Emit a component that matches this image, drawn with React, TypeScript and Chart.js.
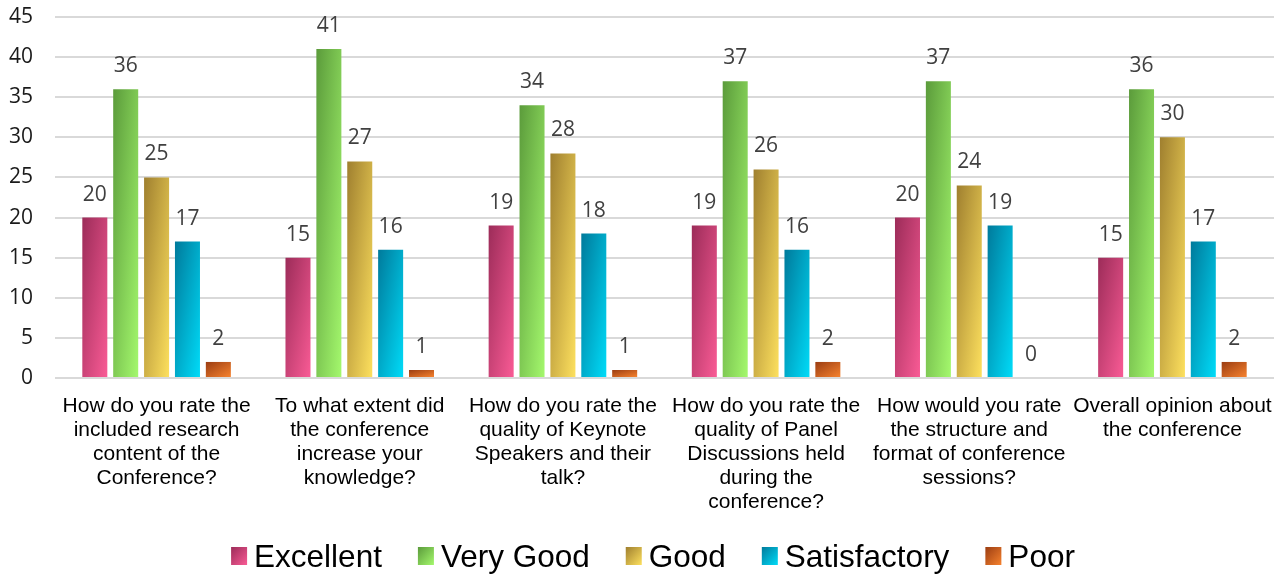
import React, { useEffect, useRef } from "react";
import { Chart, registerables } from "chart.js";

Chart.register(...registerables);

const categories: string[][] = [
  ["How do you rate the", "included research", "content of the", "Conference?"],
  ["To what extent did", "the conference", "increase your", "knowledge?"],
  ["How do you rate the", "quality of Keynote", "Speakers and their", "talk?"],
  ["How do you rate the", "quality of Panel", "Discussions held", "during the", "conference?"],
  ["How would you rate", "the structure and", "format of conference", "sessions?"],
  ["Overall opinion about", "the conference"],
];

const seriesNames = ["Excellent", "Very Good", "Good", "Satisfactory", "Poor"];
const excellent = [20, 15, 19, 19, 20, 15];
const veryGood = [36, 41, 34, 37, 37, 36];
const good = [25, 27, 28, 26, 24, 30];
const satisfactory = [17, 16, 18, 16, 19, 17];
const poor = [2, 1, 1, 2, 0, 2];
const seriesValues = [excellent, veryGood, good, satisfactory, poor];

const darkColors = ["#9c2c59", "#5b9b3b", "#9f7f2f", "#007a9b", "#9b3d12"];
const lightColors = ["#f95b95", "#a4f86d", "#fde05e", "#00dbf8", "#f6822e"];

const yTicks = [0, 5, 10, 15, 20, 25, 30, 35, 40, 45];

function makeGradient(ctx: CanvasRenderingContext2D, left: number, top: number, w: number, h: number, c0: string, c1: string) {
  const s = 2 / (1 / (w * w) + 1 / (h * h));
  const g = ctx.createLinearGradient(left, top, left + s / w, top + s / h);
  g.addColorStop(0, c0);
  g.addColorStop(1, c1);
  return g;
}

const gradientPlugin = {
  id: "barGradient",
  beforeDatasetsDraw(chart: any) {
    const ctx = chart.ctx;
    chart.data.datasets.forEach((_ds: any, di: number) => {
      const meta = chart.getDatasetMeta(di);
      meta.data.forEach((el: any) => {
        const p = el.getProps(["x", "y", "base", "width"], true);
        const left = p.x - p.width / 2;
        const top = Math.min(p.y, p.base);
        const h = Math.abs(p.base - p.y);
        if (h <= 0) return;
        const g = makeGradient(ctx, left, top, p.width, h, darkColors[di], lightColors[di]);
        el.options = Object.assign({}, el.options, { backgroundColor: g });
      });
    });
  },
};

const labelPlugin = {
  id: "valueLabels",
  afterDatasetsDraw(chart: any) {
    const ctx = chart.ctx;
    ctx.save();
    ctx.font = '21px "Open Sans"';
    ctx.fillStyle = "#404040";
    ctx.textAlign = "center";
    ctx.textBaseline = "alphabetic";
    chart.data.datasets.forEach((ds: any, di: number) => {
      const meta = chart.getDatasetMeta(di);
      meta.data.forEach((el: any, i: number) => {
        const p = el.getProps(["x", "y"], true);
        ctx.fillText(String(ds.data[i]), p.x, p.y - 17);
      });
    });
    ctx.restore();
  },
};

const legendPlugin = {
  id: "customLegend",
  afterDraw(chart: any) {
    const ctx = chart.ctx;
    ctx.save();
    ctx.font = '31.5px "Liberation Sans"';
    const boxW = 16;
    const boxH = 18;
    const boxGap = 7;
    const itemGap = 36;
    const widths = seriesNames.map((n) => ctx.measureText(n).width);
    const total = widths.reduce((a, w) => a + boxW + boxGap + w, 0) + itemGap * (seriesNames.length - 1);
    let x = 653 - total / 2;
    const boxTop = 547;
    const baseline = 567;
    seriesNames.forEach((name, i) => {
      ctx.fillStyle = makeGradient(ctx, x, boxTop, boxW, boxH, darkColors[i], lightColors[i]);
      ctx.fillRect(x, boxTop, boxW, boxH);
      ctx.fillStyle = "#000000";
      ctx.textAlign = "left";
      ctx.textBaseline = "alphabetic";
      ctx.fillText(name, x + boxW + boxGap, baseline);
      x += boxW + boxGap + widths[i] + itemGap;
    });
    ctx.restore();
  },
};

export default function App() {
  const canvasRef = useRef<HTMLCanvasElement | null>(null);

  useEffect(() => {
    document.body.style.margin = "0";
    const canvas = canvasRef.current;
    if (!canvas) return;
    const chart = new Chart(canvas, {
      type: "bar",
      data: {
        labels: categories,
        datasets: seriesNames.map((name, i) => ({
          label: name,
          data: seriesValues[i],
          backgroundColor: lightColors[i],
          borderWidth: 0,
          barPercentage: 0.81,
          categoryPercentage: 0.76,
        })),
      },
      options: {
        animation: false,
        responsive: false,
        maintainAspectRatio: false,
        layout: { padding: { top: 17, right: 9, bottom: 56, left: 0 } },
        plugins: {
          legend: { display: false },
          tooltip: { enabled: false },
        },
        scales: {
          x: {
            grid: { display: false },
            border: { display: false },
            ticks: {
              autoSkip: false,
              maxRotation: 0,
              minRotation: 0,
              padding: 8,
              color: "#000000",
              font: { family: '"Liberation Sans"', size: 21, lineHeight: "24px" },
            },
            afterFit(scale: any) {
              scale.height = 142;
              scale.paddingLeft = 0;
              scale.paddingRight = 0;
            },
          },
          y: {
            min: 0,
            max: 45,
            afterBuildTicks(scale: any) {
              scale.ticks = yTicks.map((v) => ({ value: v }));
            },
            grid: { color: "#d9d9d9", lineWidth: 2, drawTicks: false },
            border: { display: false },
            ticks: {
              padding: 22,
              color: "#1a1a1a",
              font: { family: '"Open Sans"', size: 21 },
            },
            afterFit(scale: any) {
              scale.width = 55;
              scale.paddingTop = 0;
              scale.paddingBottom = 0;
            },
          },
        },
      },
      plugins: [gradientPlugin, labelPlugin, legendPlugin],
    });
    return () => chart.destroy();
  }, []);

  return (
    <div style={{ width: 1283, height: 576 }}>
      <canvas ref={canvasRef} width={1283} height={576} style={{ display: "block" }} />
    </div>
  );
}
